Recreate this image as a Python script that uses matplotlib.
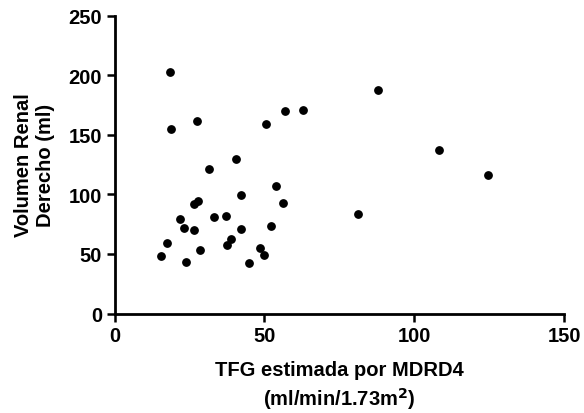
import matplotlib

matplotlib.use("Agg")
import matplotlib.pyplot as plt

# TFG estimada (ml/min/1.73m2) vs volumen renal derecho (ml)
tfg = [18.6, 18.7, 27.6, 50.4, 56.9, 63.0, 40.4, 31.6, 53.8, 42.2,
       27.7, 26.6, 56.3, 21.9, 33.2, 37.3, 23.1, 26.6, 42.2, 52.3,
       17.4, 38.8, 37.4, 28.5, 15.4, 23.7, 48.4, 49.7, 45.0,
       87.8, 108.3, 124.6, 81.2]
volumen = [202.6, 154.5, 161.2, 158.7, 169.6, 170.7, 129.6, 121.0, 106.7, 99.2,
           94.1, 91.9, 93.0, 79.0, 81.2, 82.1, 72.0, 69.8, 70.9, 73.7,
           58.9, 62.8, 57.7, 53.5, 48.2, 43.5, 55.2, 49.3, 42.4,
           187.5, 136.9, 116.2, 83.7]

xticks = [0, 50, 100, 150]
yticks = [0, 50, 100, 150, 200, 250]

plt.rcParams["font.family"] = ["Liberation Sans", "DejaVu Sans"]
plt.rcParams["font.weight"] = "bold"

fig = plt.figure(figsize=(5.84, 4.14), dpi=100)
ax = fig.add_axes((0.1964, 0.2403, 0.7694, 0.7194))

ax.scatter(tfg, volumen, s=28, color="black", zorder=3, clip_on=False)

ax.set_xlim(0, 150)
ax.set_ylim(0, 250)
ax.set_xticks(xticks)
ax.set_yticks(yticks)
for side in ("top", "right"):
    ax.spines[side].set_visible(False)
for side in ("left", "bottom"):
    ax.spines[side].set_linewidth(2.0)
ax.tick_params(direction="out", length=6, width=1.8, labelsize=14.5, pad=3)
for lbl in ax.get_xticklabels() + ax.get_yticklabels():
    lbl.set_fontweight("bold")

ax.set_xlabel("TFG estimada por MDRD4\n(ml/min/1.73m$^\\mathbf{2}$)",
              fontsize=14.5, fontweight="bold", labelpad=10.5, linespacing=1.35)
ax.set_ylabel("Volumen Renal\nDerecho (ml)",
              fontsize=14.5, fontweight="bold", labelpad=10, linespacing=1.2)

fig.savefig("out.png", dpi=100)
